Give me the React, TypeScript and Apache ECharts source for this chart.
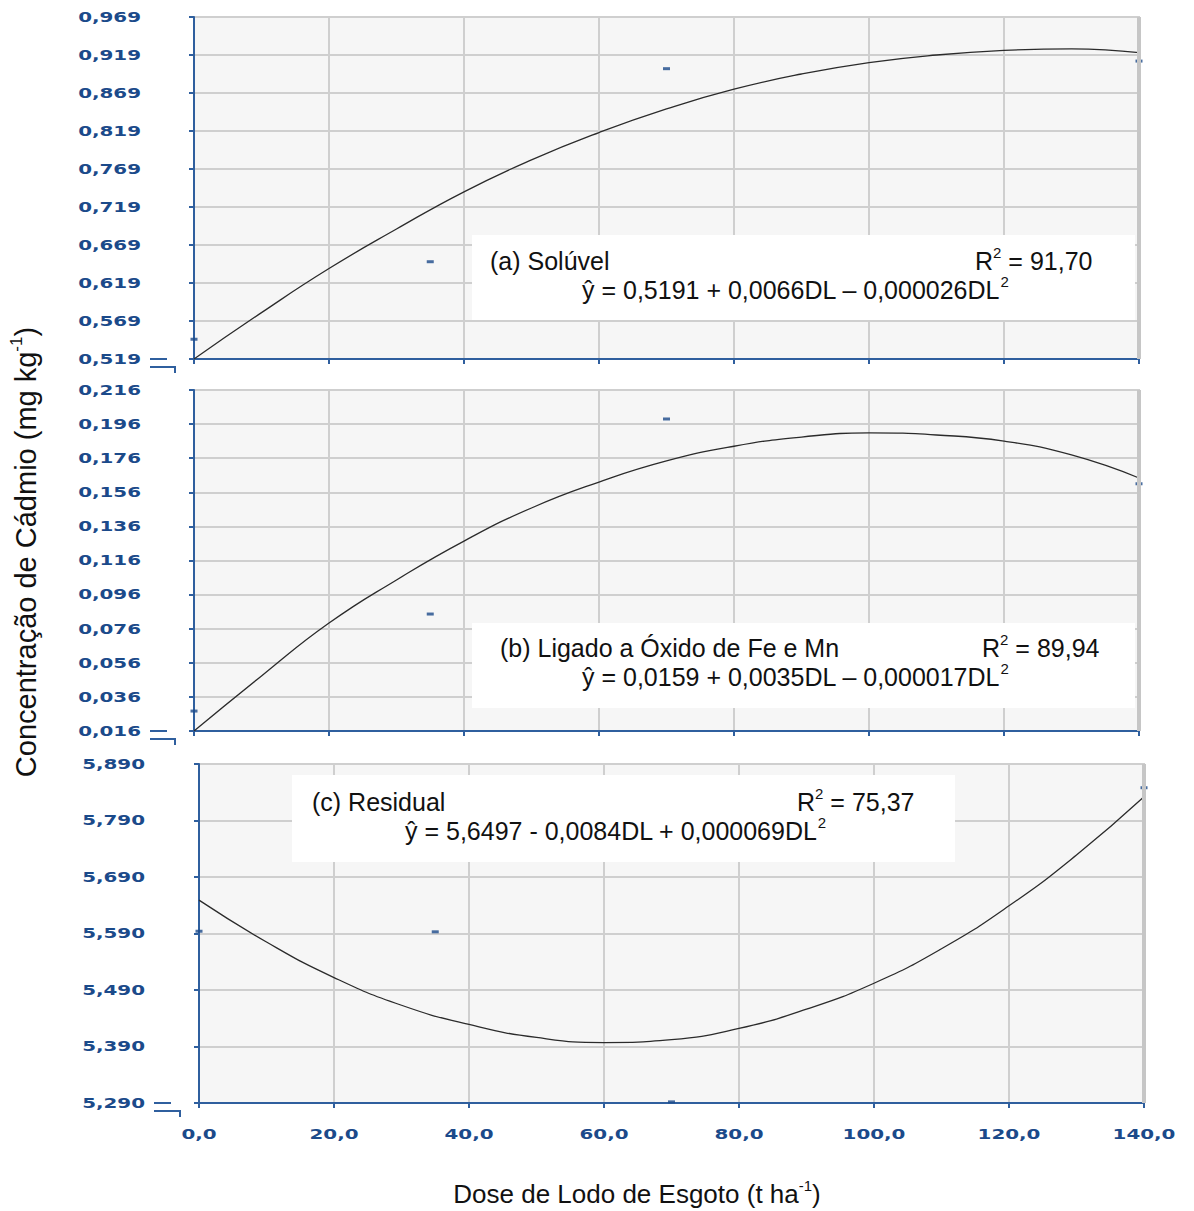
import React, { useEffect, useRef } from "react";
import * as echarts from "echarts";

// Sewage sludge doses (t/ha) where cadmium was measured
const doses = [0, 35, 70, 140];
// Doses along which the fitted quadratic curves are traced
const curveDoses = [0, 10, 20, 30, 40, 50, 60, 70, 80, 90, 100, 110, 120, 130, 140];

// (a) soluble fraction
const solubleObserved = [0.545, 0.647, 0.901, 0.911];
const solubleFitted = [0.519, 0.58, 0.638, 0.69, 0.739, 0.781, 0.817, 0.848, 0.874, 0.894, 0.909, 0.919, 0.925, 0.927, 0.922];

// (b) bound to Fe and Mn oxides
const oxideObserved = [0.0277, 0.0846, 0.199, 0.161];
const oxideFitted = [0.016, 0.0483, 0.0793, 0.1046, 0.1274, 0.1468, 0.162, 0.1744, 0.183, 0.1884, 0.1908, 0.1896, 0.186, 0.1779, 0.1644];

// (c) residual fraction
const residualObserved = [5.594, 5.593, 5.292, 5.848];
const residualFitted = [5.649, 5.575, 5.512, 5.463, 5.429, 5.406, 5.397, 5.402, 5.422, 5.456, 5.502, 5.563, 5.639, 5.729, 5.832];

// Y-axis ranges: first tick, step, number of steps
const solubleAxis = { base: 0.519, step: 0.05, steps: 9 };
const oxideAxis = { base: 0.016, step: 0.02, steps: 10 };
const residualAxis = { base: 5.29, step: 0.1, steps: 6 };

const xTicks = { min: 0, max: 140, step: 20 };

const AXIS_BLUE = "#2f5f9e";
const LABEL_BLUE = "#1b4a8a";
const GRID_GRAY = "#cfcfcf";
const TEXT_FONT = "'Liberation Sans', Arial, sans-serif";
const TICK_FONT = "bold 14px 'DejaVu Sans', Verdana, sans-serif";
const TICK_STRETCH = 1.42;
const X_OFFSET = 13;

const fmt = (v: number, digits: number) => v.toFixed(digits).replace(".", ",");

type Panel = {
  axis: { base: number; step: number; steps: number };
  observed: number[];
  fitted: number[];
  grid: { left: number; right: number; top: number; height: number };
  yOffset: number;
  showXLabels: boolean;
};

const panels: Panel[] = [
  { axis: solubleAxis, observed: solubleObserved, fitted: solubleFitted, grid: { left: 194, right: 55, top: 17, height: 342 }, yOffset: 37, showXLabels: false },
  { axis: oxideAxis, observed: oxideObserved, fitted: oxideFitted, grid: { left: 194, right: 55, top: 390, height: 341 }, yOffset: 37, showXLabels: false },
  { axis: residualAxis, observed: residualObserved, fitted: residualFitted, grid: { left: 199, right: 50, top: 764, height: 339 }, yOffset: 38, showXLabels: true },
];

function buildOption() {
  const grid = panels.map((p) => ({
    ...p.grid,
    show: true,
    backgroundColor: "#f6f6f6",
    borderColor: GRID_GRAY,
    borderWidth: 2,
  }));

  const xAxis = panels.map((p, i) => ({
    gridIndex: i,
    type: "value",
    min: xTicks.min,
    max: xTicks.max,
    interval: xTicks.step,
    offset: X_OFFSET,
    axisLine: { show: true, lineStyle: { color: AXIS_BLUE, width: 2 } },
    axisTick: { show: true, length: 5, lineStyle: { color: AXIS_BLUE, width: 2 } },
    axisLabel: { show: false },
    splitLine: { show: true, lineStyle: { color: GRID_GRAY, width: 2 } },
  }));

  // The y axes run from 0 over the span; tick labels add the first tick back,
  // so every tick lands on the odd starting value.
  const yAxis = panels.map((p, i) => ({
    gridIndex: i,
    type: "value",
    min: 0,
    max: +(p.axis.step * p.axis.steps).toFixed(6),
    interval: p.axis.step,
    offset: p.yOffset,
    axisLine: { show: true, lineStyle: { color: AXIS_BLUE, width: 2 } },
    axisTick: { show: true, length: 5, lineStyle: { color: AXIS_BLUE, width: 2 } },
    axisLabel: { show: false },
    splitLine: { show: true, lineStyle: { color: GRID_GRAY, width: 2 } },
  }));

  const series: any[] = [];
  panels.forEach((p, i) => {
    series.push({
      type: "line",
      xAxisIndex: i,
      yAxisIndex: i,
      smooth: true,
      showSymbol: false,
      lineStyle: { color: "#2b2b2b", width: 1.3 },
      data: curveDoses.map((d, k) => [d, p.fitted[k] - p.axis.base]),
      markLine: {
        silent: true,
        symbol: "none",
        label: { show: false },
        lineStyle: { color: "#c6c6c6", width: 4, type: "solid" },
        data: [{ xAxis: xTicks.max }],
      },
      z: 3,
    });
    series.push({
      type: "scatter",
      xAxisIndex: i,
      yAxisIndex: i,
      symbol: "rect",
      symbolSize: [7, 3],
      itemStyle: { color: "#1b4a8a" },
      data: doses.map((d, k) => [d, p.observed[k] - p.axis.base]),
      z: 4,
    });
  });

  return { animation: false, backgroundColor: "#ffffff", grid, xAxis, yAxis, series };
}

// Rich-text styles: a normal run plus a smaller superscript run, lifted by
// bottom padding on its token box.
function richFor(size: number, supSize: number, lift: number) {
  return {
    n: { fontSize: size, fontFamily: TEXT_FONT, fill: "#111", verticalAlign: "middle", lineHeight: size },
    s: {
      fontSize: supSize,
      fontFamily: TEXT_FONT,
      fill: "#111",
      verticalAlign: "middle",
      lineHeight: supSize + 1,
      padding: [0, 0, lift, 0],
    },
  };
}

function buildGraphic(): any[] {
  const rich = richFor(25, 15, 17);
  const txt = (x: number, y: number, text: string) => ({
    type: "text",
    x,
    y,
    z: 20,
    style: { text, rich, textAlign: "left", verticalAlign: "middle" },
  });
  const box = (x: number, y: number, w: number, h: number) => ({
    type: "rect",
    z: 19,
    shape: { x, y, width: w, height: h },
    style: { fill: "#ffffff" },
  });
  // Axis break marks at the bottom of each y axis
  const brk = (ax: number, y0: number, y1: number, y2: number, xEnd: number) => [
    { type: "line", z: 20, shape: { x1: ax - 7, y1: y0, x2: ax + 10, y2: y0 }, style: { stroke: AXIS_BLUE, lineWidth: 2 } },
    {
      type: "polyline",
      z: 20,
      shape: { points: [[ax - 7, y1], [xEnd, y1], [xEnd, y2]] },
      style: { stroke: AXIS_BLUE, lineWidth: 2, fill: "none" },
    },
  ];

  return [
    box(472, 235, 663, 85),
    txt(490, 261, "{n|(a) Solúvel}"),
    txt(975, 261, "{n|R}{s|2}{n| = 91,70}"),
    txt(582, 290, "{n|ŷ = 0,5191 + 0,0066DL – 0,000026DL}{s|2}"),

    box(472, 623, 663, 85),
    txt(500, 648, "{n|(b) Ligado a Óxido de Fe e Mn}"),
    txt(982, 648, "{n|R}{s|2}{n| = 89,94}"),
    txt(582, 677, "{n|ŷ = 0,0159 + 0,0035DL – 0,000017DL}{s|2}"),

    box(292, 775, 663, 87),
    txt(312, 802, "{n|(c) Residual}"),
    txt(797, 802, "{n|R}{s|2}{n| = 75,37}"),
    txt(405, 831, "{n|ŷ = 5,6497 - 0,0084DL + 0,000069DL}{s|2}"),

    ...brk(157, 359, 367, 373, 175),
    ...brk(157, 731, 739, 745, 175),
    ...brk(161, 1103, 1111, 1117, 180),

    {
      type: "text",
      x: 26,
      y: 552,
      rotation: Math.PI / 2,
      z: 20,
      style: {
        text: "{n|Concentração de Cádmio (mg kg}{s|-1}{n|)}",
        textAlign: "center",
        verticalAlign: "middle",
        rich: richFor(29, 17, 20),
      },
    },
    {
      type: "text",
      x: 637,
      y: 1194,
      z: 20,
      style: {
        text: "{n|Dose de Lodo de Esgoto (t ha}{s|-1}{n|)}",
        textAlign: "center",
        verticalAlign: "middle",
        rich: richFor(26, 15, 18),
      },
    },
  ];
}

// Wide bold tick labels, placed at the pixel positions the axes give their ticks.
function buildTickLabels(chart: echarts.ECharts): any[] {
  const out: any[] = [];
  const label = (x: number, y: number, text: string, align: string) => ({
    type: "text",
    x,
    y,
    scaleX: TICK_STRETCH,
    z: 21,
    style: { text, font: TICK_FONT, fill: LABEL_BLUE, textAlign: align, verticalAlign: "middle" },
  });
  panels.forEach((p, i) => {
    const origin = chart.convertToPixel({ gridIndex: i } as any, [xTicks.min, 0]) as number[];
    const axisX = origin[0] - p.yOffset;
    for (let k = 0; k <= p.axis.steps; k++) {
      const v = k * p.axis.step;
      const py = (chart.convertToPixel({ gridIndex: i } as any, [xTicks.min, v]) as number[])[1];
      out.push(label(axisX - 16, py, fmt(p.axis.base + v, 3), "right"));
    }
    if (p.showXLabels) {
      for (let v = xTicks.min; v <= xTicks.max; v += xTicks.step) {
        const px = (chart.convertToPixel({ gridIndex: i } as any, [v, 0]) as number[])[0];
        out.push(label(px, origin[1] + X_OFFSET + 18, fmt(v, 1), "center"));
      }
    }
  });
  return out;
}

export default function App() {
  const ref = useRef<HTMLDivElement>(null);
  useEffect(() => {
    if (!ref.current) return;
    const chart = echarts.init(ref.current, undefined, { renderer: "svg" });
    chart.setOption(buildOption() as any);
    chart.setOption({ graphic: [...buildGraphic(), ...buildTickLabels(chart)] } as any);
    return () => chart.dispose();
  }, []);
  return <div ref={ref} style={{ position: "absolute", left: 0, top: 0, width: 1194, height: 1211 }} />;
}
